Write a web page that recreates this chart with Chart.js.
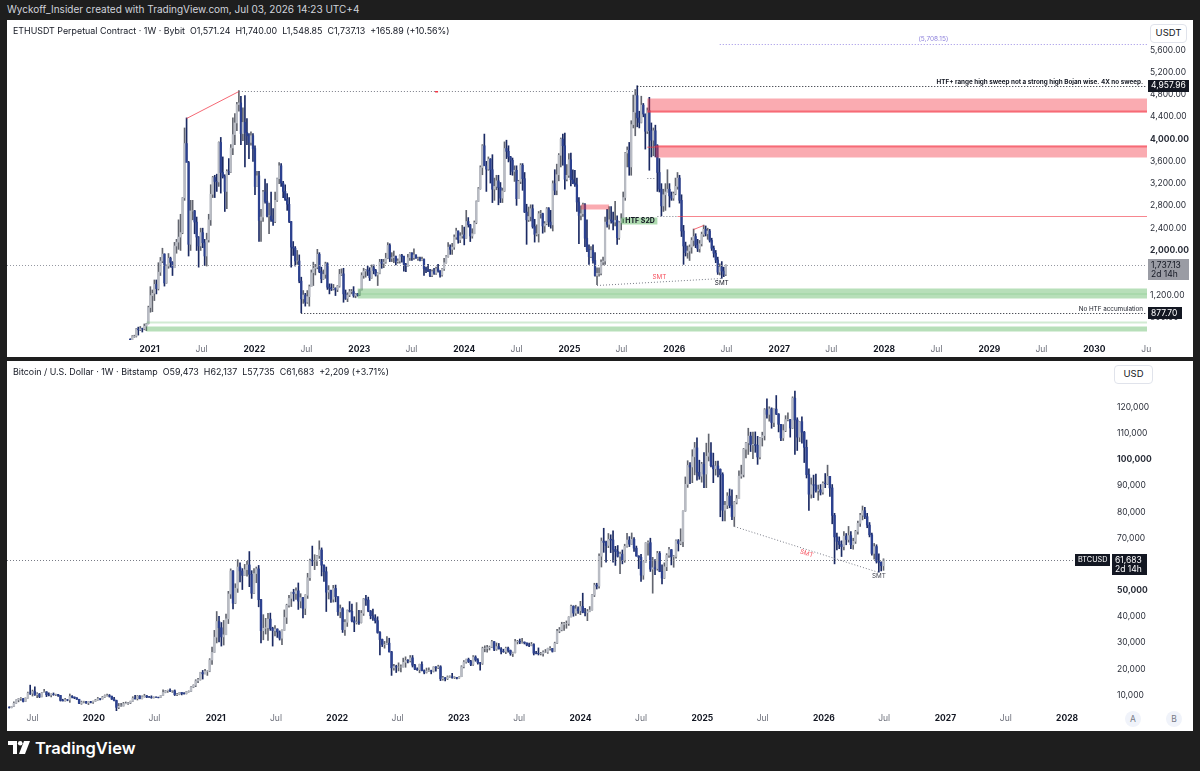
<!DOCTYPE html>
<html>
<head>
<meta charset="utf-8">
<script src="https://cdn.jsdelivr.net/npm/chart.js@4.4.1/dist/chart.umd.min.js"></script>
<style>
  html, body { margin: 0; padding: 0; }
  body { width: 1200px; height: 771px; background: #1e1e1e; position: relative; overflow: hidden; font-family: Inter, "Noto Sans", sans-serif; }
  .abs { position: absolute; }
  .pane { background: #fff; }
  #credit { left: 7px; top: 3px; font-size: 10px; color: #d1d4dc; }
  .legend { font-size: 8.9px; color: #131722; white-space: pre; }
  .unit { border: 1px solid #e0e3eb; border-radius: 4px; font-size: 9.5px; color: #131722; text-align: center; line-height: 16px; background: #fff; }
  .btn { width: 16px; height: 16px; border-radius: 50%; background: #f0f3fa; color: #787b86; font-size: 8.5px; text-align: center; line-height: 16px; }
  #brand { left: 8px; top: 738px; color: #fff; font-size: 16.5px; font-weight: 600; display: flex; align-items: center; gap: 5px; }
</style>
</head>
<body>
<div id="credit" class="abs">Wyckoff_Insider created with TradingView.com, Jul 03, 2026 14:23 UTC+4</div>
<div class="abs pane" style="left:7px;top:20px;width:1186px;height:337px"></div>
<div class="abs pane" style="left:7px;top:361px;width:1186px;height:370px"></div>
<canvas id="eth" class="abs" width="1186" height="337" style="left:7px;top:20px"></canvas>
<canvas id="btc" class="abs" width="1186" height="370" style="left:7px;top:361px"></canvas>
<div class="abs legend" style="left:13px;top:25px">ETHUSDT Perpetual Contract · 1W · Bybit  O1,571.24  H1,740.00  L1,548.85  C1,737.13  +165.89 (+10.56%)</div>
<div class="abs legend" style="left:13px;top:366px">Bitcoin / U.S. Dollar · 1W · Bitstamp  O59,473  H62,137  L57,735  C61,683  +2,209 (+3.71%)</div>
<div class="abs unit" style="left:1150px;top:24px;width:35px;height:17px">USDT</div>
<div class="abs unit" style="left:1114px;top:365px;width:37px;height:17px">USD</div>
<div class="abs btn" style="left:1125px;top:711px">A</div>
<div class="abs btn" style="left:1166px;top:711px">B</div>
<div id="brand" class="abs">
  <svg width="22" height="14" viewBox="0 0 22 14"><path d="M0 0h9v13H5V4H0z" fill="#fff"/><circle cx="12.2" cy="2.3" r="2.3" fill="#fff"/><path d="M16 0h6l-5 13h-6z" fill="#fff"/></svg>
  <span>TradingView</span>
</div>
<script>
// ETHUSDT weekly candles (Monday opens) from 2020-10-26; rows are [high, low, close]
const ethStart = '2020-10-26';
const ethFirstOpen = 405;
const ethHLC = [
  // 2020
  [415, 370, 396], [470, 376, 455], [478, 440, 460], [600, 445, 590], [623, 480, 575],
  [635, 560, 595], [605, 535, 590], [680, 575, 640], [690, 560, 685], [1000, 680, 975],
  // 2021
  [1350, 890, 1190], [1290, 900, 1230], [1470, 1100, 1390], [1470, 1220, 1315],
  [1780, 1290, 1610], [1875, 1550, 1810], [2040, 1780, 1935], [1940, 1360, 1416],
  [1740, 1410, 1720], [1945, 1680, 1860], [1880, 1700, 1785], [1800, 1550, 1690], [2145, 1690, 2080],
  [2200, 1950, 2150], [2550, 2020, 2240], [2650, 2000, 2320], [2950, 2300, 2945],
  [4200, 2900, 3920], [4380, 3600, 3580], [3600, 1900, 2110], [2900, 2000, 2710], [2900, 2550, 2710],
  [2720, 2300, 2510], [2600, 2000, 2240], [2250, 1700, 2080], [2400, 2000, 2320],
  [2400, 2050, 2140], [2200, 1730, 1900], [2310, 1720, 2190], [2650, 2150, 2550],
  [3180, 2450, 3010], [3330, 2950, 3310], [3350, 2950, 3240], [3370, 3060, 3230], [3950, 3150, 3940],
  [4030, 3030, 3400], [3680, 3300, 3330], [3360, 2700, 3060], [3450, 2750, 3420],
  [3650, 3360, 3410], [3900, 3400, 3840], [4380, 3720, 4080], [4460, 3900, 4290],
  [4660, 4150, 4620], [4870, 4500, 4650], [4770, 3900, 4100], [4560, 3970, 4300], [4780, 3500, 4120],
  [4370, 3900, 4060], [4100, 3650, 3940], [4130, 3890, 4060], [4100, 3600, 3830],
  // 2022
  [3880, 3000, 3150], [3420, 3150, 3340], [3420, 2160, 2540], [2740, 2160, 2600], [3080, 2520, 3050],
  [3280, 2850, 2880], [3200, 2600, 2620], [2850, 2300, 2620], [3050, 2520, 2550],
  [2750, 2450, 2520], [3050, 2500, 2900], [3300, 2880, 3290], [3580, 3200, 3520],
  [3560, 3150, 3210], [3240, 2950, 3060], [3180, 2900, 2920], [3020, 2720, 2830],
  [2950, 2500, 2520], [2520, 1700, 2060], [2160, 1910, 2040], [2070, 1720, 1810], [2000, 1750, 1810],
  [1920, 1420, 1450], [1520, 880, 1130], [1280, 1050, 1200], [1230, 1000, 1070],
  [1280, 1050, 1170], [1380, 1000, 1350], [1650, 1350, 1600], [1790, 1370, 1680],
  [1750, 1560, 1700], [2020, 1670, 1930], [1960, 1600, 1620], [1700, 1420, 1490], [1650, 1480, 1570],
  [1790, 1500, 1760], [1780, 1300, 1340], [1400, 1220, 1320], [1400, 1280, 1310],
  [1390, 1290, 1320], [1330, 1190, 1300], [1370, 1260, 1360], [1660, 1340, 1570], [1670, 1550, 1580],
  [1680, 1070, 1220], [1290, 1120, 1140], [1240, 1080, 1200], [1300, 1170, 1260],
  [1300, 1220, 1260], [1350, 1160, 1190], [1230, 1150, 1220], [1230, 1180, 1200],
  // 2023
  [1290, 1190, 1290], [1600, 1290, 1550], [1680, 1500, 1630], [1660, 1520, 1650], [1720, 1550, 1630],
  [1690, 1460, 1510], [1740, 1500, 1690], [1740, 1580, 1640], [1660, 1540, 1560],
  [1600, 1370, 1590], [1840, 1580, 1790], [1840, 1680, 1770], [1840, 1690, 1790],
  [1950, 1770, 1860], [2140, 1850, 2090], [2120, 1800, 1860], [1960, 1800, 1870],
  [1990, 1780, 1890], [1900, 1740, 1800], [1850, 1770, 1810], [1920, 1770, 1910], [1930, 1790, 1890],
  [1900, 1630, 1750], [1770, 1620, 1720], [1930, 1720, 1870], [1960, 1820, 1950],
  [1960, 1820, 1870], [2030, 1840, 1920], [1920, 1860, 1860], [1880, 1820, 1860], [1880, 1810, 1830],
  [1880, 1820, 1840], [1850, 1550, 1670], [1700, 1600, 1650], [1750, 1620, 1630],
  [1660, 1530, 1550], [1650, 1530, 1620], [1680, 1570, 1590], [1700, 1570, 1670],
  [1750, 1610, 1630], [1640, 1520, 1560], [1680, 1540, 1670], [1860, 1640, 1780], [1910, 1770, 1890],
  [2140, 1880, 2060], [2100, 1930, 2020], [2130, 1930, 2060], [2280, 2020, 2240],
  [2400, 2200, 2350], [2350, 2130, 2190], [2320, 2140, 2260], [2450, 2220, 2280],
  // 2024
  [2420, 2100, 2220], [2720, 2220, 2520], [2590, 2420, 2460], [2470, 2160, 2260], [2390, 2220, 2300],
  [2530, 2300, 2500], [2890, 2480, 2880], [3130, 2880, 3110], [3520, 3100, 3490],
  [3900, 3360, 3880], [4090, 3540, 3520], [3600, 3060, 3460], [3680, 3440, 3640],
  [3650, 3210, 3450], [3720, 2860, 3100], [3300, 2900, 3150], [3350, 3090, 3250], [3350, 2820, 3130],
  [3220, 2860, 2940], [3120, 2860, 3070], [3950, 3060, 3830], [3980, 3650, 3780],
  [3880, 3590, 3680], [3690, 3360, 3620], [3660, 3350, 3420], [3520, 3240, 3440],
  [3520, 2810, 2930], [3260, 2930, 3240], [3560, 3200, 3530], [3560, 3080, 3290], [3400, 2680, 2690],
  [2830, 2110, 2550], [2780, 2520, 2610], [2820, 2530, 2750], [2820, 2400, 2430],
  [2560, 2150, 2290], [2460, 2260, 2300], [2700, 2150, 2660], [2720, 2580, 2660], [2670, 2310, 2440],
  [2520, 2330, 2480], [2770, 2460, 2750], [2770, 2430, 2510], [2720, 2400, 2460],
  [3250, 2350, 3200], [3450, 3000, 3080], [3550, 3000, 3360], [3740, 3250, 3710],
  [4020, 3500, 4000], [4090, 3530, 3880], [4110, 3100, 3280], [3540, 3250, 3350], [3740, 3310, 3630],
  // 2025
  [3750, 3160, 3270], [3450, 3200, 3210], [3440, 3150, 3180], [3300, 2700, 2870],
  [2950, 2120, 2630], [2800, 2550, 2660], [2850, 2610, 2820], [2840, 2070, 2220],
  [2550, 1980, 2020], [2100, 1750, 1890], [2070, 1870, 2000], [2100, 1770, 1820], [1960, 1540, 1550],
  [1690, 1385, 1590], [1690, 1540, 1590], [1830, 1560, 1790], [1880, 1740, 1810],
  [2600, 1750, 2510], [2740, 2420, 2470], [2790, 2380, 2550], [2790, 2490, 2530],
  [2690, 2370, 2510], [2880, 2440, 2540], [2620, 2110, 2230], [2520, 2200, 2500], [2660, 2370, 2570],
  [3050, 2500, 2950], [3760, 2900, 3750], [3860, 3500, 3800], [3940, 3350, 3500],
  [4330, 3350, 4260], [4790, 4200, 4480], [4890, 4060, 4780], [4958, 4220, 4380],
  [4500, 4200, 4300], [4770, 4290, 4610], [4640, 4400, 4450], [4450, 3820, 4140], [4560, 4100, 4510],
  [4750, 3440, 4150], [4290, 3680, 3980], [4200, 3700, 4150], [4250, 3680, 3880],
  [3900, 3060, 3400], [3650, 3050, 3100], [3200, 2620, 2800], [3100, 2700, 3000],
  [3200, 2720, 3050], [3450, 3050, 3100], [3200, 2780, 2980], [3050, 2900, 2940], [3050, 2900, 3020],
  // 2026
  [3300, 3000, 3150], [3400, 3100, 3300], [3350, 2850, 2900], [3000, 2250, 2350],
  [2450, 1750, 2080], [2150, 1900, 1960], [2080, 1860, 1990], [2100, 1820, 2060],
  [2230, 1950, 2180], [2385, 2080, 2250], [2300, 2050, 2100], [2200, 1980, 2030], [2180, 1970, 2120],
  [2330, 2080, 2290], [2455, 2250, 2380], [2440, 2260, 2300], [2400, 2200, 2350],
  [2380, 2150, 2180], [2220, 2000, 2040], [2080, 1880, 1950], [2000, 1780, 1830],
  [1880, 1570, 1610], [1760, 1560, 1700], [1800, 1500, 1630], [1700, 1530, 1571.24], [1740, 1548.85, 1737.13]
];

// BTCUSD weekly candles (Monday opens) from 2019-04-22; rows are [high, low, close]
const btcStart = '2019-04-22';
const btcFirstOpen = 5300;
const btcHLC = [
  // 2019
  [5650, 5100, 5280], [5800, 5200, 5750],
  [7500, 5700, 6970], [8300, 6900, 8200], [8800, 7500, 8700], [9100, 8000, 8700],
  [8800, 7450, 7650], [9000, 7600, 8990], [11200, 8950, 10850], [13880, 10300, 10800],
  [12000, 9700, 11450], [13200, 10000, 10200], [11000, 9100, 10500], [10700, 9100, 9500], [11100, 9400, 11000],
  [12300, 11000, 11300], [11400, 9500, 10200], [10950, 9800, 10100], [10600, 9350, 10400],
  [10900, 10000, 10300], [10450, 9900, 10300], [10350, 9600, 9950], [10000, 7800, 8050], [8500, 7800, 7900],
  [8800, 7800, 8300], [8400, 7900, 8200], [10500, 7300, 9550], [9900, 9000, 9300],
  [9400, 8700, 9000], [9100, 8400, 8500], [8500, 6800, 6900], [7800, 6550, 7400],
  [7750, 7100, 7500], [7650, 6900, 7100], [7550, 6450, 7500], [7700, 7100, 7400], [7800, 6900, 7750],
  // 2020
  [8450, 7700, 8200], [9200, 8100, 8700], [8750, 8250, 8600], [9600, 8550, 9350],
  [10150, 9150, 9900], [10500, 9700, 9900], [10300, 9300, 9650], [9700, 8400, 8550],
  [9200, 7850, 8000], [8150, 3850, 5400], [6900, 4900, 5800], [6950, 5700, 5900], [7300, 5900, 6800],
  [7450, 6750, 6900], [7300, 6500, 7100], [7800, 6800, 7700], [9450, 7650, 8900],
  [10000, 8550, 8700], [9950, 8200, 9700], [9900, 8650, 8700], [9750, 8650, 9450],
  [10400, 9300, 9750], [9950, 9100, 9350], [9600, 9200, 9300], [9800, 8850, 9150], [9400, 8950, 9300],
  [9450, 9150, 9250], [9300, 9000, 9200], [10000, 9150, 9950], [12100, 9950, 11100],
  [11900, 10950, 11700], [12000, 11100, 11900], [12450, 11400, 11650], [11800, 11100, 11700], [12050, 9900, 10250],
  [10750, 9900, 10350], [11100, 10200, 11050], [11050, 10150, 10750], [11000, 10400, 10650],
  [11500, 10500, 11400], [11700, 11200, 11500], [13350, 11400, 13100], [14000, 12900, 13800],
  [15950, 13300, 15500], [16500, 14800, 16000], [18800, 15800, 18700], [19500, 16200, 18200], [19900, 18200, 19150],
  [19400, 17600, 19250], [24000, 19000, 23500], [28400, 21800, 26400], [34800, 26400, 32200],
  // 2021
  [42000, 30000, 38200], [40200, 30400, 35800], [37800, 28800, 32300], [38600, 29200, 33100],
  [41000, 33200, 39200], [49700, 37400, 48700], [58300, 47000, 57500], [57600, 43000, 45200],
  [52600, 45000, 50900], [61800, 49300, 59000], [60600, 53300, 57500], [58400, 50400, 55800], [60000, 55800, 58000],
  [61200, 55500, 59800], [64900, 51500, 56200], [57600, 47000, 49000], [58400, 48800, 56500],
  [59000, 53000, 58300], [59600, 43800, 46500], [46700, 30000, 34700], [40800, 31200, 35600], [39400, 33400, 35800],
  [41300, 31000, 39100], [41400, 34800, 35500], [36000, 28800, 34700], [36600, 32700, 35300],
  [35400, 32100, 34200], [34600, 31100, 31800], [35000, 29300, 34800], [42600, 34800, 39800],
  [44800, 37400, 44400], [48200, 43700, 47000], [49400, 43900, 49300], [50500, 46000, 48900], [51000, 46600, 49900],
  [52900, 42800, 46000], [48800, 43400, 47300], [47400, 39600, 43200], [48400, 40800, 48200],
  [56600, 47000, 54900], [62000, 53900, 61500], [67000, 59500, 61300], [63700, 58000, 61300],
  [63500, 59500, 63300], [69000, 62300, 65500], [66300, 55600, 59700], [59800, 53500, 57200], [59000, 42000, 49400],
  [51900, 46800, 50100], [50200, 45500, 46700], [52000, 45600, 50800], [52100, 45700, 47700],
  // 2022
  [47600, 40500, 41900], [44500, 39600, 43100], [43500, 34000, 35100], [38900, 32900, 37900], [42600, 36300, 42400],
  [45800, 41800, 42100], [44800, 38000, 38400], [40000, 34300, 37800], [45400, 37200, 38000],
  [42500, 37100, 37800], [42400, 37600, 41300], [47000, 40500, 46800], [48200, 44300, 46400],
  [47500, 41900, 42200], [42400, 39200, 40400], [42900, 38600, 39500], [40800, 37600, 38500],
  [40000, 33700, 34000], [34300, 25400, 31300], [31500, 28600, 29400], [30600, 28000, 29400], [32400, 29300, 29900],
  [31800, 26500, 26600], [26800, 17600, 20500], [21800, 19600, 21000], [21500, 18700, 20800],
  [22400, 19300, 20800], [21600, 18900, 20800], [24200, 20800, 22600], [24700, 20700, 23300],
  [23600, 22400, 23200], [25200, 22700, 24300], [25200, 20800, 21500], [21800, 19800, 20000], [20500, 19500, 19800],
  [21900, 18600, 21800], [22800, 19300, 19400], [19700, 18200, 18800], [20400, 18500, 19300],
  [20500, 19100, 19400], [19600, 18200, 19200], [20900, 18900, 20800], [21000, 19200, 20600], [21500, 20200, 20900],
  [21300, 15600, 16300], [17200, 15800, 16700], [16800, 15500, 16400], [17400, 16000, 17000],
  [17400, 16800, 17100], [18400, 16500, 16800], [17100, 16400, 16800], [16900, 16300, 16600],
  // 2023
  [17200, 16500, 17100], [21300, 17100, 20900], [23300, 20500, 22700], [23800, 22300, 23700], [24200, 22500, 22900],
  [23400, 21300, 21800], [25200, 21400, 24600], [25100, 23000, 23500], [24000, 21900, 22400],
  [22600, 19600, 22200], [28400, 21800, 27900], [28900, 26600, 27900], [29100, 26500, 28200],
  [28800, 27300, 28400], [31000, 28200, 30500], [30500, 27000, 27600], [30000, 27200, 28600],
  [29800, 27700, 27700], [28200, 25800, 26800], [27600, 26400, 26700], [28400, 25900, 28000], [28400, 26500, 27100],
  [27300, 25300, 25900], [26500, 24800, 26300], [31400, 26200, 30500], [31000, 29600, 30600],
  [31500, 29700, 30300], [31800, 29900, 30300], [30400, 29600, 30000], [30000, 28900, 29200], [29900, 28600, 29100],
  [30200, 28900, 29400], [29700, 25400, 26100], [26800, 25800, 26000], [28100, 25400, 25900],
  [26400, 25400, 25900], [27000, 24900, 26500], [27500, 26300, 26500], [28000, 26000, 27900],
  [28600, 27200, 27900], [27900, 26500, 26800], [30300, 26800, 29900], [35200, 29700, 34500], [35900, 33900, 35000],
  [37900, 34600, 37100], [37900, 34800, 37400], [38400, 35600, 37400], [40000, 36700, 39900],
  [44500, 39900, 44000], [44200, 40200, 41400], [44400, 40500, 43000], [43800, 41300, 42300],
  // 2024
  [45900, 40800, 43900], [49000, 41500, 41700], [43200, 40300, 41600], [42800, 38500, 42000], [43900, 41900, 42600],
  [48500, 42500, 48300], [52800, 47700, 52100], [52800, 50600, 51700], [64000, 50900, 63100],
  [70100, 59000, 68900], [73800, 64600, 68400], [68900, 60800, 67200], [71800, 66400, 69600],
  [71300, 64500, 69300], [72800, 60800, 65700], [66900, 59600, 64900], [67200, 62800, 63100], [64700, 56500, 63900],
  [65500, 60200, 61500], [67700, 60800, 66900], [71900, 66600, 69300], [70600, 66800, 67700],
  [72000, 67600, 69600], [70200, 65000, 66200], [67000, 63100, 63200], [63300, 58400, 62700],
  [63800, 53500, 55900], [61000, 54300, 60800], [68300, 60800, 68200], [69000, 63500, 68300], [70000, 57300, 58200],
  [62700, 49000, 58700], [61800, 56100, 58400], [65000, 57800, 64200], [64900, 57200, 57300],
  [59800, 52500, 54800], [60600, 54600, 59100], [64100, 57600, 63500], [66500, 62700, 65600], [65700, 59800, 62900],
  [63400, 58900, 63000], [69400, 62400, 69000], [69500, 65100, 68000], [73600, 67500, 68700],
  [80500, 66800, 80400], [93400, 80300, 90600], [99600, 89400, 97800], [98900, 90800, 97200],
  [103800, 91200, 101100], [106600, 94200, 104500], [108300, 92200, 95200], [99800, 92500, 93700], [99000, 91400, 98300],
  // 2025
  [102700, 89300, 94500], [106300, 89300, 101300], [109800, 99500, 102600], [106500, 97200, 97700],
  [102500, 91200, 96500], [99400, 94100, 97600], [99500, 93400, 96300], [96500, 78200, 94300],
  [95000, 76600, 80700], [84100, 76600, 82600], [87400, 81300, 86100], [88800, 81600, 82500], [88500, 77100, 78300],
  [84000, 74500, 83700], [86400, 83100, 85100], [95700, 85100, 93700], [97900, 92900, 94300],
  [104300, 93400, 104000], [106600, 100700, 106400], [112000, 102000, 109000], [110500, 103100, 105700],
  [110500, 100400, 105800], [110600, 102800, 105500], [108900, 98200, 101000], [108500, 100300, 108400], [110500, 105200, 109200],
  [119500, 107500, 119100], [123200, 115800, 117300], [120200, 114700, 119400], [119800, 112000, 114200],
  [119400, 112600, 119300], [124500, 117200, 117400], [117600, 110600, 113500], [113500, 107300, 108300],
  [113400, 107300, 111100], [116800, 110700, 115300], [117900, 114800, 115300], [115400, 108600, 112100], [124000, 111900, 123500],
  [126200, 102000, 115200], [116000, 103500, 108600], [114600, 106900, 114500], [116400, 106300, 110500],
  [110800, 98900, 104700], [107500, 93000, 94300], [96500, 80600, 86800], [93000, 85300, 90400],
  [94100, 85500, 90300], [94500, 87600, 88200], [90300, 84500, 88500], [90500, 86500, 87600], [91500, 86800, 91000],
  // 2026
  [94700, 89300, 90800], [97900, 90500, 93600], [93600, 86000, 89200], [90500, 75500, 78700],
  [79500, 60200, 70500], [72000, 65500, 68800], [70500, 66000, 67600], [69000, 63000, 66800],
  [72500, 65500, 70800], [71800, 67500, 69500], [74500, 68500, 71000], [72500, 66000, 67500], [70000, 65800, 68800],
  [73000, 68000, 72600], [76500, 71500, 75700], [79500, 74500, 78800], [82300, 77000, 80500],
  [81800, 77500, 78200], [79500, 74000, 75000], [76000, 70500, 71300], [72000, 63500, 64200],
  [68000, 62000, 66800], [67500, 60500, 61200], [64000, 57000, 60800], [61000, 57500, 59473], [62137, 57735, 61683]
];

// axis labels
const ethYears = [2021, 2022, 2023, 2024, 2025, 2026, 2027, 2028, 2029, 2030];
const btcYears = [2019, 2020, 2021, 2022, 2023, 2024, 2025, 2026, 2027, 2028];
const ethPriceTicks = [800, 1200, 1600, 2000, 2400, 2800, 3200, 3600, 4000, 4400, 4800, 5200, 5600];
const ethBoldPrices = [2000, 4000];
const btcPriceTicks = [10000, 20000, 30000, 40000, 50000, 60000, 70000, 80000, 90000, 100000, 110000, 120000];
const btcBoldPrices = [50000, 100000];

// drawings on the ETH pane: [date, price] or [from, to, low, high]
const ethHigh2021 = [['2021-05-10', 4380], ['2021-11-08', 4870]];
const ethRangeMark = ['2023-09-25', 4870];
const ethRangeHigh = ['2025-08-25', 4957.96];
const ethTarget = ['2026-06-08', 5708.15];
const ethLow2022 = ['2022-06-13', 877.70];
const ethLast = 1737.13;
const ethSupply = [['2025-09-29', 4481, 4733, 4481, 4525], ['2025-10-27', 3678, 3894, 3849, 3894]];
const ethDemand = [['2022-12-26', 1150, 1326], ['2020-12-21', 702, 738], ['2020-12-21', 559, 649]];
const ethSmallSupply = ['2025-02-10', '2025-05-19', 2744, 2834];
const ethS2D = ['2025-06-30', '2025-11-03', 2475, 2606];
const ethS2DLevel = ['2025-11-03', '2026-01-12', 2619];
const ethMidMark = ['2025-09-29', '2025-10-27', 3300];
const ethSmt = [['2025-04-07', 1385], ['2026-06-15', 1500]];
const ethLowerHigh = [['2026-03-09', 2385], ['2026-04-13', 2455]];
// drawings on the BTC pane
const btcSmt = [['2025-04-07', 74500], ['2026-06-15', 57000]];
const btcLast = 61683;

const FONT = 'Inter, "Noto Sans", sans-serif';
Chart.defaults.font.family = FONT;
const EPOCH = Date.UTC(2021, 0, 1);
const WEEK = 7 * 86400000;
function wk(s) {
  const p = s.split('-').map(Number);
  return (Date.UTC(p[0], p[1] - 1, p[2]) - EPOCH) / WEEK;
}

function buildCandles(start, open0, rows) {
  const t0 = wk(start);
  const wick = [], body = [], bodyCol = [], wickCol = [];
  let prev = open0;
  rows.forEach((r, i) => {
    const up = r[2] >= prev;
    wick.push({ x: t0 + i, y: [r[1], r[0]] });
    body.push({ x: t0 + i, y: [prev, r[2]] });
    bodyCol.push(up ? '#b9bcc4' : '#2c418f');
    wickCol.push(up ? '#62656f' : '#1b2a63');
    prev = r[2];
  });
  return { wick, body, bodyCol, wickCol };
}

function timeTicks(years, lastJul) {
  const list = [];
  years.forEach(y => {
    list.push({ value: wk(y + '-01-01'), label: String(y), bold: true });
    list.push({ value: wk(y + '-07-01'), label: 'Jul', bold: false });
  });
  if (lastJul) list[list.length - 1].label = lastJul;
  return list;
}

// cfg.xCal = [page x of 2021-01-01, px per week], cfg.yCal = [price, page y, price per px]
function makeChart(id, c, cfg) {
  const xt = timeTicks(cfg.years, cfg.lastJul);
  const xLabel = new Map(xt.map(t => [t.value.toFixed(3), t]));
  const ch = new Chart(document.getElementById(id), {
    type: 'bar',
    data: {
      datasets: [
        { data: c.body, backgroundColor: c.bodyCol, barThickness: cfg.bodyW, grouped: false, borderWidth: 0 },
        { data: c.wick, backgroundColor: c.wickCol, barThickness: 1, grouped: false, borderWidth: 0 }
      ]
    },
    options: {
      responsive: false, animation: false, events: [],
      layout: { padding: 0, autoPadding: false },
      plugins: { legend: { display: false }, tooltip: { enabled: false } },
      scales: {
        x: {
          type: 'linear', min: cfg.xInit[0], max: cfg.xInit[1], offset: false,
          grid: { display: false, drawTicks: false }, border: { display: false },
          afterFit: s => { s.height = cfg.xAxisH; },
          afterBuildTicks: s => { s.ticks = xt.filter(t => t.value >= s.min && t.value <= s.max).map(t => ({ value: t.value })); },
          ticks: {
            autoSkip: false, maxRotation: 0, padding: cfg.xPad,
            callback: v => { const t = xLabel.get(v.toFixed(3)); return t ? t.label : ''; },
            font: ctx => {
              const t = ctx.tick && xLabel.get(ctx.tick.value.toFixed(3));
              return { family: FONT, size: 8.5, weight: t && t.bold ? '700' : '400' };
            },
            color: ctx => {
              const t = ctx.tick && xLabel.get(ctx.tick.value.toFixed(3));
              return t && t.bold ? '#131722' : '#6a6d78';
            }
          }
        },
        y: {
          type: 'linear', position: 'right', min: cfg.priceTicks[0], max: cfg.priceTicks[cfg.priceTicks.length - 1],
          grid: { display: false, drawTicks: false }, border: { display: false },
          afterFit: s => { s.width = cfg.yAxisW; },
          afterBuildTicks: s => { s.ticks = cfg.priceTicks.filter(v => v >= s.min && v <= s.max).map(v => ({ value: v })); },
          ticks: {
            padding: cfg.yPad,
            callback: v => v.toLocaleString('en-US', { minimumFractionDigits: cfg.decimals, maximumFractionDigits: cfg.decimals }),
            font: ctx => ({ family: FONT, size: 8.5, weight: ctx.tick && cfg.boldPrices.includes(ctx.tick.value) ? '700' : '400' }),
            color: '#2a2e39'
          }
        }
      }
    },
    plugins: [cfg.notes]
  });
  // pin the scales to the screenshot's axis calibration, using the chart area actually laid out
  const xv = p => (p + cfg.pageLeft - cfg.xCal[0]) / cfg.xCal[1];
  const yv = p => cfg.yCal[0] + (cfg.yCal[1] - (p + cfg.pageTop)) * cfg.yCal[2];
  for (let pass = 0; pass < 4; pass++) {
    const a = ch.chartArea;
    ch.options.scales.x.min = xv(a.left);
    ch.options.scales.x.max = xv(a.right);
    ch.options.scales.y.min = yv(a.bottom);
    ch.options.scales.y.max = yv(a.top);
    ch.update('none');
  }
  return ch;
}

function dotted(ctx, x0, x1, y0, y1, color, dash) {
  ctx.save();
  ctx.strokeStyle = color; ctx.lineWidth = 1; ctx.setLineDash(dash || [1, 2]);
  ctx.beginPath(); ctx.moveTo(x0, y0); ctx.lineTo(x1, y1); ctx.stroke();
  ctx.restore();
}
function tag(ctx, x0, w, yc, lines, bg, fg, size) {
  const h = lines.length * 9 + 3;
  ctx.fillStyle = bg;
  ctx.fillRect(x0, Math.round(yc - 6), w, h);
  ctx.fillStyle = fg; ctx.font = (size || 8.5) + 'px ' + FONT; ctx.textAlign = 'left'; ctx.textBaseline = 'middle';
  lines.forEach((s, i) => ctx.fillText(s, x0 + 3, yc + i * 9));
}
function clipArea(ctx, a) {
  ctx.save(); ctx.beginPath(); ctx.rect(a.left, a.top, a.right - a.left, a.bottom - a.top); ctx.clip();
}

const ethNotes = {
  id: 'ethNotes',
  afterDatasetsDraw(chart) {
    const { ctx, chartArea: a, scales: { x, y } } = chart;
    const X = d => x.getPixelForValue(wk(d));
    const Y = v => Math.round(y.getPixelForValue(v)) + 0.5;
    clipArea(ctx, a);
    // demand zones
    ethDemand.forEach(([d, lo, hi], i) => {
      ctx.fillStyle = i === 1 ? 'rgba(76,175,80,0.25)' : 'rgba(76,175,80,0.4)';
      ctx.fillRect(X(d), Y(hi), a.right - X(d), Y(lo) - Y(hi));
    });
    ctx.fillStyle = 'rgba(76,175,80,0.25)';
    ctx.fillRect(X(ethDemand[0][0]), Y((ethDemand[0][1] + ethDemand[0][2]) / 2), a.right - X(ethDemand[0][0]), 1);
    // supply zones
    ethSupply.forEach(([d, lo, hi, s0, s1]) => {
      ctx.fillStyle = 'rgba(242,54,69,0.42)';
      ctx.fillRect(X(d), Y(hi), a.right - X(d), Y(lo) - Y(hi));
      ctx.fillStyle = 'rgba(242,54,69,0.55)';
      ctx.fillRect(X(d), Y(s1), a.right - X(d), Y(s0) - Y(s1));
    });
    ctx.fillStyle = 'rgba(242,54,69,0.5)';
    ctx.fillRect(X(ethMidMark[0]), Y(ethSupply[1][3]) - 1, X(ethMidMark[1]) - X(ethMidMark[0]), 1.5);
    dotted(ctx, X(ethMidMark[0]), X(ethMidMark[1]), Y(ethMidMark[2]), Y(ethMidMark[2]), '#787b86');
    ctx.fillStyle = 'rgba(242,54,69,0.42)';
    ctx.fillRect(X(ethSmallSupply[0]), Y(ethSmallSupply[3]), X(ethSmallSupply[1]) - X(ethSmallSupply[0]), Y(ethSmallSupply[2]) - Y(ethSmallSupply[3]));
    // supply-to-demand flip
    ctx.fillStyle = 'rgba(76,175,80,0.45)';
    ctx.fillRect(X(ethS2D[0]), Y(ethS2D[3]), X(ethS2D[1]) - X(ethS2D[0]), Y(ethS2D[2]) - Y(ethS2D[3]));
    ctx.fillStyle = '#131722'; ctx.font = 'bold 7px ' + FONT; ctx.textBaseline = 'middle'; ctx.textAlign = 'left';
    ctx.fillText('HTF S2D', X(ethS2D[0]) + 4, (Y(ethS2D[2]) + Y(ethS2D[3])) / 2);
    dotted(ctx, X(ethS2DLevel[0]), X(ethS2DLevel[1]), Y(ethS2DLevel[2]), Y(ethS2DLevel[2]), '#787b86');
    ctx.fillStyle = 'rgba(242,54,69,0.6)';
    ctx.fillRect(X(ethS2DLevel[1]), Y(ethS2DLevel[2]) - 0.5, a.right - X(ethS2DLevel[1]), 1);
    // 2021 highs and range high line
    ctx.strokeStyle = 'rgba(242,54,69,0.75)'; ctx.lineWidth = 1; ctx.setLineDash([]);
    ctx.beginPath(); ctx.moveTo(X(ethHigh2021[0][0]), Y(ethHigh2021[0][1])); ctx.lineTo(X(ethHigh2021[1][0]), Y(ethHigh2021[1][1])); ctx.stroke();
    dotted(ctx, X(ethHigh2021[1][0]), X(ethRangeHigh[0]), Y(ethHigh2021[1][1]), Y(ethHigh2021[1][1]), '#787b86');
    ctx.fillStyle = '#f23645';
    ctx.fillRect(X(ethRangeMark[0]) - 1, Y(ethRangeMark[1]) - 0.5, 3, 1.5);
    dotted(ctx, X(ethRangeHigh[0]), a.right, Y(ethRangeHigh[1]), Y(ethRangeHigh[1]), '#131722');
    ctx.fillStyle = '#131722'; ctx.font = 'bold 6.3px ' + FONT; ctx.textAlign = 'right'; ctx.textBaseline = 'bottom';
    ctx.fillText('HTF+ range high sweep not a strong high Bojan wise. 4X no sweep.', a.right - 4, Y(ethRangeHigh[1]) - 1);
    // projected target
    dotted(ctx, X(ethTarget[0]), a.right, Y(ethTarget[1]), Y(ethTarget[1]), '#9c8fe6');
    ctx.fillStyle = '#8f83dc'; ctx.font = '6.5px ' + FONT; ctx.textAlign = 'center';
    ctx.fillText('(' + ethTarget[1].toLocaleString('en-US', { minimumFractionDigits: 2 }) + ')', (X(ethTarget[0]) + a.right) / 2, Y(ethTarget[1]) - 2);
    // 2022 low
    dotted(ctx, X(ethLow2022[0]), a.right, Y(ethLow2022[1]), Y(ethLow2022[1]), '#131722');
    ctx.fillStyle = '#131722'; ctx.font = '6.3px ' + FONT; ctx.textAlign = 'right';
    ctx.fillText('No HTF accumulation', a.right - 4, Y(ethLow2022[1]) - 1);
    // last price
    dotted(ctx, a.left, a.right, Y(ethLast), Y(ethLast), '#9598a1');
    // SMT divergence
    dotted(ctx, X(ethSmt[0][0]), X(ethSmt[1][0]), Y(ethSmt[0][1]), Y(ethSmt[1][1]), '#787b86');
    ctx.fillStyle = '#f7525f'; ctx.font = '6.3px ' + FONT; ctx.textAlign = 'center'; ctx.textBaseline = 'bottom';
    ctx.fillText('SMT', (X(ethSmt[0][0]) + X(ethSmt[1][0])) / 2, (Y(ethSmt[0][1]) + Y(ethSmt[1][1])) / 2 - 2);
    ctx.fillStyle = '#131722'; ctx.textBaseline = 'top';
    ctx.fillText('SMT', X(ethSmt[1][0]), Y(ethSmt[1][1]) + 1);
    ctx.strokeStyle = 'rgba(242,54,69,0.75)';
    ctx.beginPath(); ctx.moveTo(X(ethLowerHigh[0][0]), Y(ethLowerHigh[0][1])); ctx.lineTo(X(ethLowerHigh[1][0]), Y(ethLowerHigh[1][1])); ctx.stroke();
    ctx.restore();
  },
  afterDraw(chart) {
    const { ctx, chartArea: a, scales: { y } } = chart;
    const x0 = a.right + 1;
    tag(ctx, x0, 41, y.getPixelForValue(ethRangeHigh[1]), ['4,957.96'], '#131722', '#ffffff');
    tag(ctx, x0, 41, y.getPixelForValue(ethLast), ['1,737.13', '2d 14h'], '#9a9ca4', '#131722');
    tag(ctx, x0, 34, y.getPixelForValue(ethLow2022[1]), ['877.70'], '#131722', '#ffffff');
  }
};

const btcNotes = {
  id: 'btcNotes',
  afterDatasetsDraw(chart) {
    const { ctx, chartArea: a, scales: { x, y } } = chart;
    const X = d => x.getPixelForValue(wk(d));
    const Y = v => Math.round(y.getPixelForValue(v)) + 0.5;
    clipArea(ctx, a);
    dotted(ctx, a.left, a.right - 36, Y(btcLast), Y(btcLast), '#787b86');
    const x0 = X(btcSmt[0][0]), y0 = Y(btcSmt[0][1]), x1 = X(btcSmt[1][0]), y1 = Y(btcSmt[1][1]);
    dotted(ctx, x0, x1, y0, y1, '#787b86');
    ctx.save();
    ctx.translate((x0 + x1) / 2, (y0 + y1) / 2 + 4);
    ctx.rotate(Math.atan2(y1 - y0, x1 - x0));
    ctx.fillStyle = '#f7525f'; ctx.font = '6.3px ' + FONT; ctx.textAlign = 'center'; ctx.textBaseline = 'middle';
    ctx.fillText('SMT', 0, 0);
    ctx.restore();
    ctx.fillStyle = '#434651'; ctx.font = '6.3px ' + FONT; ctx.textAlign = 'center'; ctx.textBaseline = 'top';
    ctx.fillText('SMT', x1, y1 + 0.5);
    ctx.restore();
  },
  afterDraw(chart) {
    const { ctx, chartArea: a, scales: { y } } = chart;
    const yc = y.getPixelForValue(btcLast);
    tag(ctx, a.right - 36, 35, yc, ['BTCUSD'], '#131722', '#ffffff', 7.3);
    tag(ctx, a.right + 1, 35, yc, ['61,683', '2d 14h'], '#131722', '#ffffff');
  }
};

makeChart('eth', buildCandles(ethStart, ethFirstOpen, ethHLC), {
  years: ethYears, lastJul: 'Ju', pageLeft: 7, pageTop: 20, xInit: [-70.8, 495.8],
  xCal: [149.5, 2.012], yCal: [1200, 295, 17.959],
  xAxisH: 17, yAxisW: 46, xPad: 4, yPad: 3, bodyW: 1.6,
  priceTicks: ethPriceTicks, boldPrices: ethBoldPrices, decimals: 2, notes: ethNotes
});
makeChart('btc', buildCandles(btcStart, btcFirstOpen, btcHLC), {
  years: btcYears, lastJul: null, pageLeft: 7, pageTop: 361, xInit: [-89.5, 384.0],
  xCal: [215.7, 2.3315], yCal: [10000, 695.3, 381.94],
  xAxisH: 20, yAxisW: 82, xPad: 2, yPad: 6, bodyW: 1.8,
  priceTicks: btcPriceTicks, boldPrices: btcBoldPrices, decimals: 0, notes: btcNotes
});
</script>
</body>
</html>
